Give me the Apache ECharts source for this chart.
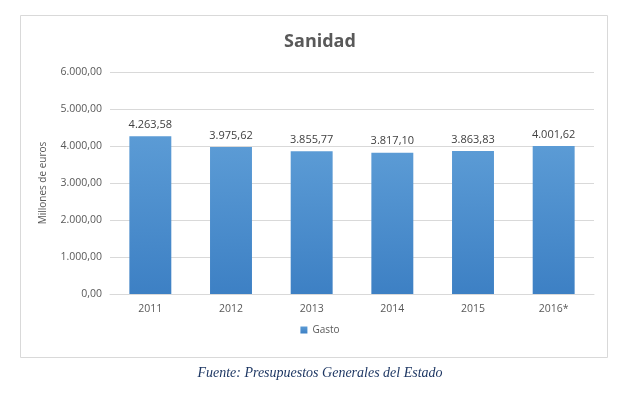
<!DOCTYPE html>
<html><head><meta charset="utf-8">
<script src="https://cdn.jsdelivr.net/npm/echarts@6/dist/echarts.min.js"></script>
<style>html,body{margin:0;padding:0;background:#fff}#c{width:640px;height:402px}</style>
</head><body><div id="c"></div>
<script>
var categories = ['2011','2012','2013','2014','2015','2016*'];
var gasto = [4263.58, 3975.62, 3855.77, 3817.10, 3863.83, 4001.62];
var yTicks = [0,1000,2000,3000,4000,5000,6000];

function fmt(v){
  var s = Number(v).toFixed(2).split('.');
  var i = s[0].replace(/\B(?=(\d{3})+(?!\d))/g,'.');
  return i + ',' + s[1];
}
var chart = echarts.init(document.getElementById('c'));
chart.setOption({
  animation:false,
  title:{text:'Sanidad', left:'center', top:28, textStyle:{fontFamily:'Open Sans', fontSize:18, fontWeight:'bold', color:'#595959'}},
  legend:{bottom:62, left:'center', itemWidth:7, itemHeight:7, icon:'rect', textStyle:{fontFamily:'Open Sans', fontSize:10, color:'#595959'}},
  grid:{left:110, right:46, top:72, bottom:108},
  xAxis:{type:'category', data:categories, axisTick:{show:false}, axisLine:{lineStyle:{color:'#d9d9d9'}},
    axisLabel:{fontFamily:'Open Sans', fontSize:10.5, color:'#595959', margin:10}},
  yAxis:{type:'value', min:0, max:6000, interval:1000, name:'Millones de euros', nameLocation:'middle', nameGap:62, nameRotate:90,
    nameTextStyle:{fontFamily:'Open Sans', fontSize:10, color:'#595959'},
    axisLine:{show:false}, axisTick:{show:false}, splitLine:{lineStyle:{color:'#d9d9d9'}},
    axisLabel:{fontFamily:'Open Sans', fontSize:10.5, color:'#595959', formatter:fmt}},
  series:[{name:'Gasto', type:'bar', data:gasto, barWidth:'52%',
    itemStyle:{color:new echarts.graphic.LinearGradient(0,0,0,1,[{offset:0,color:'#5b9bd5'},{offset:1,color:'#3d80c4'}])},
    label:{show:true, position:'top', distance:6, formatter:function(p){return fmt(p.value);}, fontFamily:'Open Sans', fontSize:11, color:'#404040'}}],
  graphic:[
    {type:'rect', shape:{x:20.5,y:15.5,width:587,height:342}, style:{fill:null, stroke:'#d9d9d9', lineWidth:1}, silent:true},
    {type:'text', left:'center', top:366, style:{text:'Fuente: Presupuestos Generales del Estado', font:'italic 14px "Liberation Serif"', fill:'#1f3864'}}
  ]
});
</script></body></html>
